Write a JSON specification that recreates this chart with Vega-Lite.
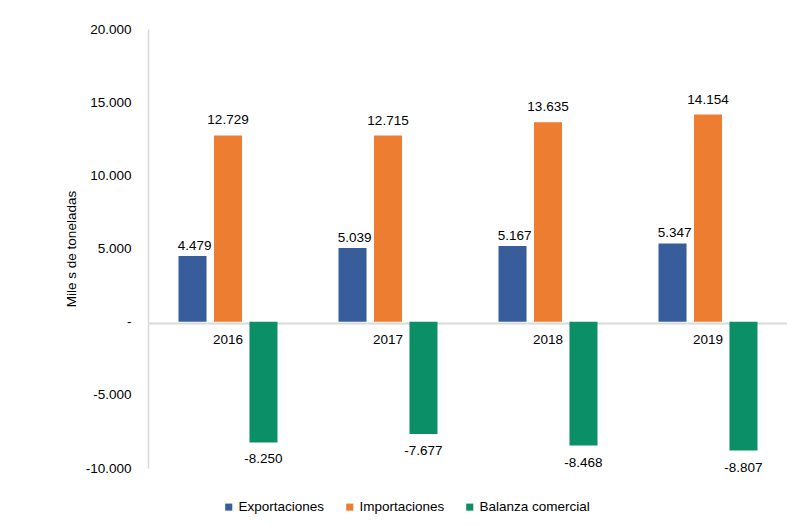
{
  "$schema": "https://vega.github.io/schema/vega-lite/v6.json",
  "width": 640,
  "height": 439,
  "autosize": "none",
  "padding": {"left": 148, "top": 29, "right": 0, "bottom": 57},
  "background": "white",
  "config": {
    "font": "Liberation Sans",
    "view": {"stroke": null},
    "locale": {"number": {"decimal": ",", "thousands": ".", "grouping": [3], "currency": ["$", ""], "minus": "-"}},
    "text": {"font": "Liberation Sans", "fontSize": 13.5, "color": "#000000"}
  },
  "data": {
    "values": [
      {"year": "2016", "serie": "Exportaciones", "valor": 4479},
      {"year": "2016", "serie": "Importaciones", "valor": 12729},
      {"year": "2016", "serie": "Balanza comercial", "valor": -8250},
      {"year": "2017", "serie": "Exportaciones", "valor": 5039},
      {"year": "2017", "serie": "Importaciones", "valor": 12715},
      {"year": "2017", "serie": "Balanza comercial", "valor": -7677},
      {"year": "2018", "serie": "Exportaciones", "valor": 5167},
      {"year": "2018", "serie": "Importaciones", "valor": 13635},
      {"year": "2018", "serie": "Balanza comercial", "valor": -8468},
      {"year": "2019", "serie": "Exportaciones", "valor": 5347},
      {"year": "2019", "serie": "Importaciones", "valor": 14154},
      {"year": "2019", "serie": "Balanza comercial", "valor": -8807}
    ]
  },
  "encoding": {
    "x": {
      "field": "year", "type": "nominal",
      "scale": {"paddingInner": 0, "paddingOuter": 0},
      "axis": {
        "title": null, "orient": "bottom", "offset": -145, "labelAngle": 0,
        "ticks": false, "tickSize": 0, "labelPadding": 9, "labelFontSize": 13.5,
        "labelColor": "#000000", "labelFont": "Liberation Sans",
        "domainColor": "#d9d9d9", "domainWidth": 2, "grid": false, "zindex": 0
      }
    },
    "xOffset": {
      "field": "serie", "type": "nominal",
      "sort": ["Exportaciones", "Importaciones", "Balanza comercial"],
      "scale": {"paddingInner": 0.21, "paddingOuter": 0.86}
    },
    "y": {
      "field": "valor", "type": "quantitative",
      "scale": {"domain": [-10000, 20000], "nice": false, "zero": false},
      "axis": {
        "title": "Mile s de toneladas", "titleFontSize": 13.5, "titleFontWeight": "normal",
        "titleColor": "#000000", "titleFont": "Liberation Sans", "titlePadding": 7,
        "values": [-10000, -5000, 0, 5000, 10000, 15000, 20000],
        "format": ",.0f",
        "labelExpr": "datum.value == 0 ? '-' : datum.label",
        "labelFontSize": 13.5, "labelColor": "#000000", "labelFont": "Liberation Sans",
        "ticks": false, "tickSize": 0, "labelPadding": 17,
        "grid": false, "domainColor": "#d9d9d9", "domainWidth": 1.5
      }
    }
  },
  "layer": [
    {
      "mark": {"type": "bar"},
      "encoding": {
        "color": {
          "field": "serie", "type": "nominal",
          "sort": ["Exportaciones", "Importaciones", "Balanza comercial"],
          "scale": {"domain": ["Exportaciones", "Importaciones", "Balanza comercial"], "range": ["#375E9A", "#ED7D31", "#0A8F66"]},
          "legend": {
            "title": null, "orient": "none", "direction": "horizontal",
            "legendX": 74, "legendY": 471,
            "symbolType": "square", "symbolSize": 50, "symbolStrokeWidth": 0,
            "labelFontSize": 13.5, "labelColor": "#000000", "labelFont": "Liberation Sans",
            "labelOffset": 3, "columnPadding": 18
          }
        }
      }
    },
    {
      "transform": [{"filter": "datum.serie == 'Exportaciones'"}],
      "mark": {"type": "text", "baseline": "bottom", "dy": -3, "dx": 2},
      "encoding": {"text": {"field": "valor", "type": "quantitative", "format": ",.0f"}}
    },
    {
      "transform": [{"filter": "datum.serie == 'Importaciones'"}],
      "mark": {"type": "text", "baseline": "bottom", "dy": -8},
      "encoding": {"text": {"field": "valor", "type": "quantitative", "format": ",.0f"}}
    },
    {
      "transform": [{"filter": "datum.valor < 0"}],
      "mark": {"type": "text", "baseline": "top", "dy": 10},
      "encoding": {"text": {"field": "valor", "type": "quantitative", "format": ",.0f"}}
    }
  ]
}
